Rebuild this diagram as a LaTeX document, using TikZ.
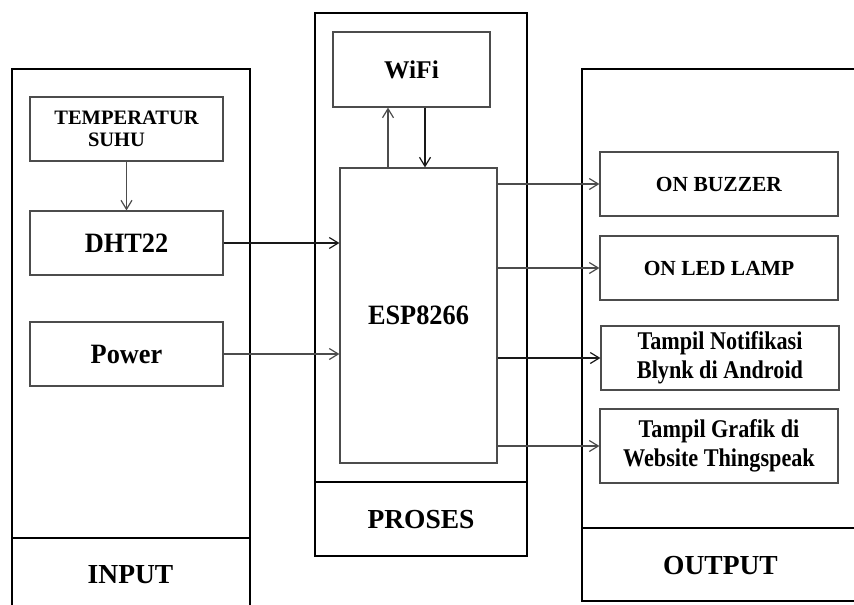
\documentclass[tikz,border=0pt]{standalone}
\usepackage{fontspec}
\setmainfont{Liberation Serif}
\newfontfamily\condfont[FakeStretch=0.87]{Liberation Serif}
\newfontfamily\semicondfont[FakeStretch=0.94]{Liberation Serif}
\usetikzlibrary{arrows.meta}
\tikzset{
  frame/.style={draw=black, line width=2.8pt},
  blockbox/.style={draw=black!70, line width=1.2pt, inner sep=0pt, align=center,
    font=\semicondfont\bfseries\fontsize{28}{30}\selectfont},
  outbox/.style={blockbox, minimum width=238pt, font=\bfseries\fontsize{21.5}{28}\selectfont},
  outtwo/.style={outbox, font=\condfont\bfseries\fontsize{25.5}{28.5}\selectfont},
  label/.style={inner sep=0pt, font=\bfseries\fontsize{27.5}{30}\selectfont},
  conn/.style={draw=black!70, line width=1.2pt, -{Straight Barb[length=9pt,width=11pt,line width=1.2pt]}},
  conndark/.style={conn, draw=black!90}
}
\begin{document}
\begin{tikzpicture}[x=1pt,y=-1pt]
\useasboundingbox (0,0) rectangle (854,605);
\clip (0,0) rectangle (854,605);
\fill[white] (0,0) rectangle (854,605);

% frames
\draw[frame] (12,69) rectangle (250,640);
\draw[frame] (12,538) -- (250,538);
\draw[frame] (315,13) rectangle (527,556);
\draw[frame] (315,482) -- (527,482);
\draw[frame] (582,69) rectangle (880,601);
\draw[frame] (582,528) -- (880,528);

% input blocks
\node[blockbox, minimum width=193pt, minimum height=64pt, font=\bfseries\fontsize{20.5}{22}\selectfont] (temp) at (126.5,129) {TEMPERATUR\\SUHU\hspace*{20pt}};
\node[blockbox, minimum width=193pt, minimum height=64pt] (dht) at (126.5,243) {DHT22};
\node[blockbox, minimum width=193pt, minimum height=64pt] (power) at (126.5,354) {Power};

% process blocks
\node[blockbox, minimum width=157pt, minimum height=75pt, font=\bfseries\fontsize{25.5}{30}\selectfont] (wifi) at (411.5,69.5) {WiFi};
\node[blockbox, minimum width=157pt, minimum height=295pt] (esp) at (418.5,315.5) {ESP8266};

% output blocks
\node[outbox, minimum height=64pt] (buzzer) at (719,184) {ON BUZZER};
\node[outbox, minimum height=64pt] (led) at (719,268) {ON LED LAMP};
\node[outtwo, minimum height=64pt] (notif) at (720,358) {Tampil Notifikasi\\Blynk di Android};
\node[outtwo, minimum height=74pt] (grafik) at (719,446) {Tampil Grafik di\\Website Thingspeak};

% section labels
\node[label] (input) at (130.5,575) {INPUT};
\node[label] (proses) at (421,520) {PROSES};
\node[label] (output) at (720.5,566) {OUTPUT};

% connectors
\draw[conn] (temp.south) -- (dht.north);
\draw[conndark] (dht.east) -- (dht.east -| esp.west);
\draw[conn] (power.east) -- (power.east -| esp.west);
\coordinate (espup) at ([xshift=-30.5pt]esp.north);
\coordinate (espdown) at ([xshift=6.5pt]esp.north);
\draw[conn] (espup) -- (espup |- wifi.south);
\draw[conndark] (espdown |- wifi.south) -- (espdown);
\draw[conn] (buzzer.west -| esp.east) -- (buzzer.west);
\draw[conn] (led.west -| esp.east) -- (led.west);
\draw[conndark] (notif.west -| esp.east) -- (notif.west);
\draw[conn] (grafik.west -| esp.east) -- (grafik.west);
\end{tikzpicture}
\end{document}
